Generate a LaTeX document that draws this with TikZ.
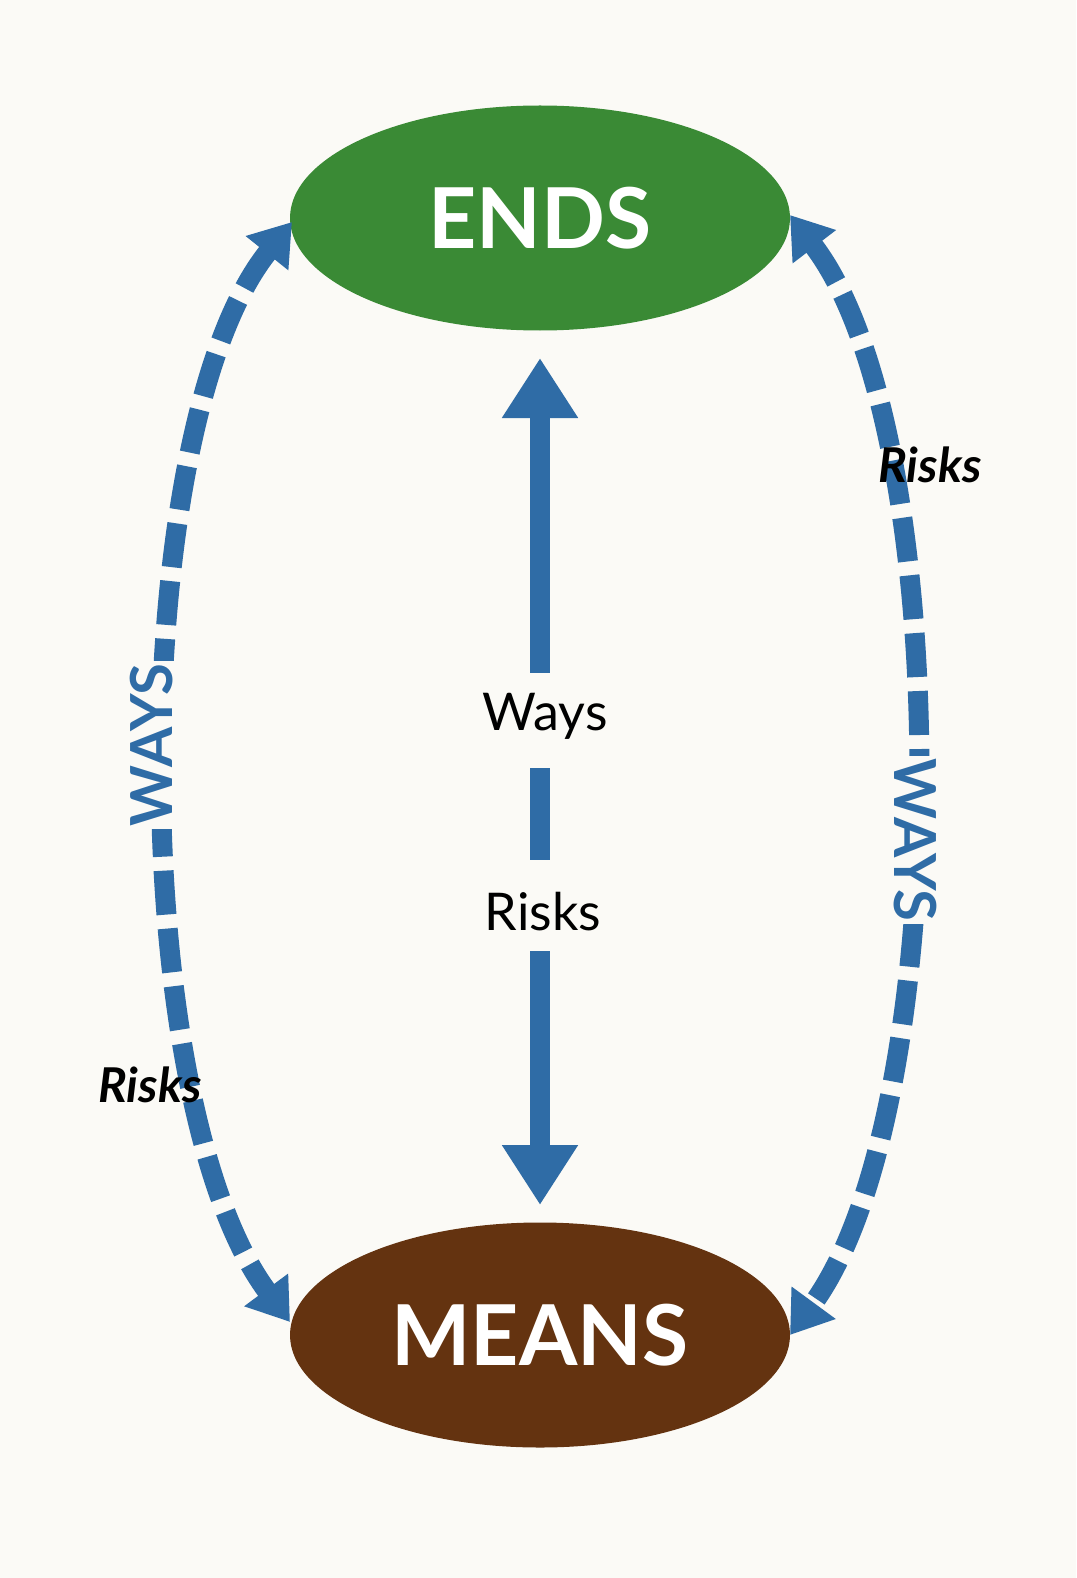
\documentclass[tikz,border=0pt]{standalone}
\usepackage{fontspec}
\setmainfont{Lato}
\usetikzlibrary{arrows.meta,shapes.geometric}
\definecolor{bg}{HTML}{FBFAF6}
\definecolor{ends}{HTML}{3A8A35}
\definecolor{means}{HTML}{643310}
\definecolor{arr}{HTML}{2F6CA6}
\begin{document}
\begin{tikzpicture}[x=1pt,y=-1pt,
  oval/.style={ellipse,minimum width=500pt,minimum height=225pt,inner sep=0pt,text=white,font=\fontsize{84}{90}\selectfont\bfseries},
  tip/.style={-{Triangle[length=45pt,width=62pt]}},
  flow/.style={draw=arr,line width=20pt},
  arc/.style={flow,dash pattern=on 44pt off 14pt,{Triangle[length=40pt,width=52pt]}-{Triangle[length=40pt,width=52pt]}},
  lab/.style={font=\fontsize{52}{56}\selectfont,text=black,fill=bg,inner sep=4pt},
  risk/.style={font=\fontsize{48}{52}\selectfont\itshape\bfseries,text=black},
  ways/.style={font=\fontsize{58}{62}\selectfont\bfseries,text=arr,fill=bg,inner sep=3pt}]
\fill[bg] (0,0) rectangle (1076,1578);
\useasboundingbox (0,0) rectangle (1076,1578);
\node[oval,fill=ends] (E) at (540,218) {ENDS};
\node[oval,fill=means] (M) at (540,1335) {MEANS};
\coordinate (Et) at (540,358);
\coordinate (Mb) at (540,1205);
\coordinate (L1) at (292,222);
\coordinate (L2) at (290,1322);
\coordinate (R1) at (790,215);
\coordinate (R2) at (790,1335);
\draw[arc] (L1) .. controls (125,430) and (125,1100) .. (L2);
\draw[arc] (R1) .. controls (955,430) and (955,1110) .. (R2);
\draw[flow,{Triangle[length=60pt,width=72pt]}-{Triangle[length=60pt,width=72pt]}] (Et) -- (Mb);
\node[lab,inner ysep=20pt] (w) at (545,716) {Ways};
\node[lab,inner ysep=20pt] (r) at (543,912) {Risks};
\fill[bg] (520,745) rectangle (560,768);
\fill[bg] (520,860) rectangle (560,880);
\node[ways,rotate=90] (W1) at (152,745) {WAYS};
\node[ways,rotate=-90] (W2) at (915,840) {WAYS};
\node[risk] (r1) at (150,1085) {Risks};
\node[risk] (r2) at (930,465) {Risks};
\end{tikzpicture}
\end{document}
